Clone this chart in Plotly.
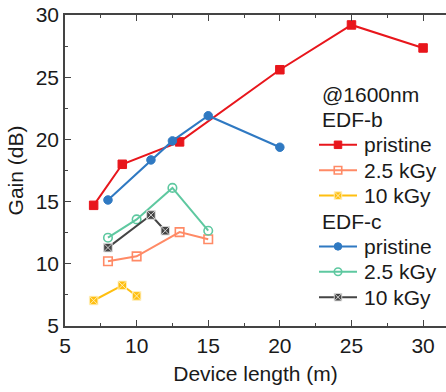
import plotly.graph_objects as go

# ---- data ----
# EDF-b
b_pristine_x = [7, 9, 13, 20, 25, 30]
b_pristine_y = [14.7, 18.0, 19.8, 25.6, 29.2, 27.35]
b_25_x = [8, 10, 13, 15]
b_25_y = [10.2, 10.6, 12.55, 11.97]
b_10_x = [7, 9, 10]
b_10_y = [7.05, 8.27, 7.42]
# EDF-c
c_pristine_x = [8, 11, 12.5, 15, 20]
c_pristine_y = [15.13, 18.35, 19.88, 21.9, 19.37]
c_25_x = [8, 10, 12.5, 15]
c_25_y = [12.1, 13.57, 16.1, 12.66]
c_10_x = [8, 11, 12]
c_10_y = [11.3, 13.92, 12.66]

legend_title = "@1600nm"
group_names = ["EDF-b", "EDF-c"]
item_names = ["pristine", "2.5 kGy", "10 kGy"]

FONT = "Arial, Liberation Sans, sans-serif"
TXT = "#1a1a1a"
AX = "#444444"

W, H = 446, 392
ML, MR, MT, MB = 65, 0, 15, 66

styles = [
    # color, symbol, marker line color, marker line width
    ("#e8161c", "square", "#e8161c", 1),
    ("#ff8a66", "square-open", "#ff8a66", 1.6),
    ("#ffbf10", "square-x", "rgba(255,240,190,0.9)", 1),
    ("#2f79c2", "circle", "#2f79c2", 1),
    ("#5ec8a0", "circle-open", "#5ec8a0", 1.6),
    ("#454545", "square-x", "rgba(220,220,220,0.9)", 1),
]
data = [
    (b_pristine_x, b_pristine_y), (b_25_x, b_25_y), (b_10_x, b_10_y),
    (c_pristine_x, c_pristine_y), (c_25_x, c_25_y), (c_10_x, c_10_y),
]

fig = go.Figure()
for (xs, ys), (col, sym, lcol, lw), nm in zip(data, styles, item_names * 2):
    fig.add_trace(go.Scatter(
        x=xs, y=ys, mode="lines+markers", name=nm, showlegend=False,
        line=dict(color=col, width=2),
        marker=dict(symbol=sym, size=8.5, color=col, line=dict(color=lcol, width=lw)),
    ))

# ---- custom legend (tighter line spacing than plotly's native legend) ----
LEG_X_HEAD = 320      # px, left of header text
LEG_X_LINE = (319, 357)
LEG_X_TEXT = 362
LEG_Y0 = 94           # px, centre of first legend row
LEG_DY = 25.4

rows = [("head", legend_title, None)]
for g, grp in enumerate(group_names):
    rows.append(("head", grp, None))
    for i, nm in enumerate(item_names):
        rows.append(("item", nm, styles[g * 3 + i]))

for r, (kind, text, st) in enumerate(rows):
    py = LEG_Y0 + r * LEG_DY
    if kind == "head":
        fig.add_annotation(x=LEG_X_HEAD, y=py, xref="x2", yref="y2", text=text,
                           showarrow=False, xanchor="left", yanchor="middle",
                           font=dict(size=21, family=FONT, color=TXT))
    else:
        col, sym, lcol, lw = st
        fig.add_trace(go.Scatter(x=list(LEG_X_LINE), y=[py, py], xaxis="x2", yaxis="y2",
                                 mode="lines", line=dict(color=col, width=2),
                                 showlegend=False, hoverinfo="skip", cliponaxis=False))
        fig.add_trace(go.Scatter(x=[sum(LEG_X_LINE) / 2], y=[py], xaxis="x2", yaxis="y2",
                                 mode="markers", showlegend=False, hoverinfo="skip",
                                 cliponaxis=False,
                                 marker=dict(symbol=sym, size=7.5, color=col,
                                             line=dict(color=lcol, width=lw))))
        fig.add_annotation(x=LEG_X_TEXT, y=py, xref="x2", yref="y2", text=text,
                           showarrow=False, xanchor="left", yanchor="middle",
                           font=dict(size=21, family=FONT, color=TXT))

def axis_common():
    return dict(
        ticks="inside", ticklen=6, tickwidth=1.2, tickcolor=AX,
        showline=True, linecolor=AX, linewidth=1.5,
        showgrid=False, zeroline=False,
        tickfont=dict(size=21, color=TXT, family=FONT),
        minor=dict(ticks="inside", ticklen=3.5, tickcolor=AX, tickwidth=1.2, dtick=2.5, showgrid=False),
    )

fig.update_layout(
    width=W, height=H,
    margin=dict(l=ML, r=MR, t=MT, b=MB),
    plot_bgcolor="white", paper_bgcolor="white",
    font=dict(family=FONT, color=TXT),
    showlegend=False,
    xaxis=dict(range=[5, 31.6], dtick=5, tick0=5, mirror="ticks",
               title=dict(text="Device length (m)", font=dict(size=21, color=TXT, family=FONT), standoff=10),
               **axis_common()),
    yaxis=dict(range=[5, 30], dtick=5, tick0=5,
               title=dict(text="Gain (dB)", font=dict(size=21, color=TXT, family=FONT), standoff=6),
               **axis_common()),
    # pixel-space overlay axes for the legend
    xaxis2=dict(overlaying="x", range=[ML, W - MR], visible=False, fixedrange=True),
    yaxis2=dict(overlaying="y", range=[H - MB, MT], visible=False, fixedrange=True),
)

fig.write_html("out.html")
